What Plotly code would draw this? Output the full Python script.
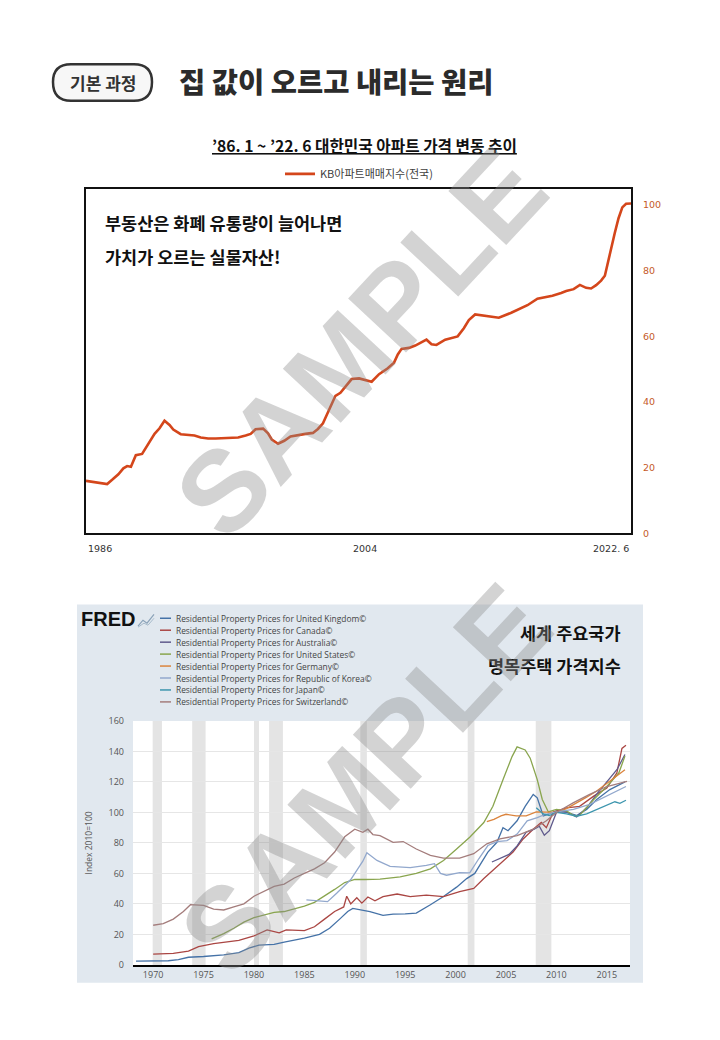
import plotly.graph_objects as go

W, H = 720, 1040


def px(x):
    return x / W


def py(y):
    return 1 - y / H


# KB apartment sales price index (nationwide), 1986.1 ~ 2022.6
kb_dates = [
    '1986-01', '1986-07', '1987-01', '1987-06', '1987-10', '1988-03', '1988-07', '1988-10',
    '1989-01', '1989-05', '1989-10', '1990-03', '1990-08', '1990-12', '1991-04', '1991-08',
    '1991-11', '1992-05', '1992-11', '1993-04', '1993-09', '1994-03', '1994-09', '1995-03',
    '1995-09', '1996-03', '1996-09', '1997-01', '1997-05', '1997-11', '1998-03', '1998-06',
    '1998-11', '1999-04', '1999-09', '2000-03', '2000-09', '2001-03', '2001-07', '2001-11',
    '2002-02', '2002-05', '2002-09', '2003-01', '2003-05', '2003-10', '2004-04', '2004-09',
    '2005-02', '2005-08', '2006-03', '2006-08', '2006-11', '2007-02', '2007-08', '2008-01',
    '2008-07', '2008-10', '2009-02', '2009-06', '2010-01', '2010-06', '2010-11', '2011-04',
    '2011-08', '2012-01', '2012-06', '2013-01', '2013-08', '2014-06', '2015-01', '2015-07',
    '2016-03', '2016-10', '2017-03', '2017-10', '2018-02', '2018-08', '2019-01', '2019-06',
    '2019-10', '2020-02', '2020-06', '2020-09', '2020-11', '2021-02', '2021-05', '2021-08',
    '2021-11', '2022-02', '2022-06',
]
kb_values = [
    16.0, 15.6, 15.2, 15.0, 16.3, 18.0, 19.8, 20.5,
    20.3, 23.8, 24.2, 27.2, 30.3, 32.0, 34.3, 33.0,
    31.6, 30.2, 30.0, 29.8, 29.2, 28.9, 28.9, 29.0,
    29.0, 29.2, 29.8, 30.3, 31.7, 31.9, 30.5, 28.6,
    27.3, 28.2, 29.5, 30.0, 30.3, 30.6, 31.8, 33.5,
    36.2, 38.8, 41.9, 42.8, 44.5, 47.0, 47.2, 46.8,
    46.2, 48.5, 50.3, 52.0, 54.5, 56.2, 56.5, 57.2,
    58.4, 59.0, 57.6, 57.4, 59.0, 59.6, 60.0, 62.5,
    65.0, 66.7, 66.4, 66.0, 65.7, 67.2, 68.4, 69.5,
    71.5, 72.0, 72.4, 73.2, 73.8, 74.4, 75.7, 74.8,
    74.6, 75.6, 77.0, 78.5, 82.0, 86.5, 91.5, 96.0,
    99.3, 100.4, 100.5,
]
kb_tick_pos = ['1986-01-01', '2004-09-01', '2022-06-01']
kb_tick_text = ['1986', '2004', '2022. 6']
kb_yticks = [0, 20, 40, 60, 80, 100]

# FRED residential property prices, index 2010=100
uk_years = [1968.3, 1970, 1971.5, 1972.5, 1973.5, 1975, 1977, 1978.5, 1979.5, 1980.5, 1982, 1983,
            1985, 1986.5, 1987.5, 1988.5, 1989.3, 1989.8, 1990.5, 1991.5, 1992.8, 1993.8, 1995,
            1996.1, 1997.5, 1998.8, 2000.1, 2001.1, 2001.9, 2002.4, 2003.2, 2004.1, 2004.7, 2005.2,
            2006.1, 2006.9, 2007.7, 2008.1, 2008.7, 2009.2, 2010.0, 2011.0, 2012.0, 2013.0, 2014.0,
            2015.3, 2016.8]
uk_values = [2.5, 2.6, 2.7, 3.5, 5.0, 5.5, 6.5, 8.0, 11.0, 13.0, 13.5, 15.0,
             17.5, 20.0, 24.0, 30.0, 35.0, 37.0, 36.0, 35.0, 32.5, 33.3, 33.5,
             34.0, 39.4, 44.8, 51.0, 56.6, 60.0, 65.3, 74.0, 80.4, 90.0, 88.0,
             94.5, 104.0, 111.8, 109.6, 97.7, 98.8, 101.0, 100.0, 98.0, 102.0, 108.5,
             115.0, 120.0]

ca_years = [1970, 1972, 1973.5, 1974.5, 1976, 1977, 1978.5, 1980, 1981.3, 1982.5, 1983.2, 1985,
            1986, 1987, 1988, 1988.9, 1989.2, 1989.6, 1990.2, 1990.7, 1991.3, 1992.0, 1992.8,
            1994.2, 1995.5, 1997.1, 1998.8, 2000.4, 2001.8, 2002.8, 2003.7, 2004.7, 2005.7,
            2006.7, 2007.7, 2008.5, 2009.0, 2009.7, 2011.0, 2012.3, 2013.7, 2015.0, 2016.0,
            2016.5, 2016.9]
ca_values = [7.0, 7.5, 9.0, 12.0, 14.0, 15.0, 16.0, 19.0, 23.0, 21.0, 23.0, 22.5,
             25.0, 30.0, 35.0, 38.0, 45.0, 40.0, 44.0, 40.5, 44.5, 42.0, 44.8,
             46.5, 44.8, 45.8, 44.8, 48.0, 50.2, 56.6, 62.0, 68.5, 74.0,
             82.6, 89.0, 93.4, 90.0, 100.3, 103.0, 104.0, 110.7, 116.0, 126.0,
             142.0, 144.0]

au_years = [2003.6, 2004.5, 2005.3, 2006.1, 2007.0, 2007.8, 2008.3, 2008.8, 2009.3, 2010.0,
            2011.0, 2012.0, 2013.0, 2014.0, 2015.0, 2016.0, 2016.8]
au_values = [67.5, 70.0, 72.5, 78.0, 87.0, 89.0, 91.0, 85.0, 88.0, 100.0,
             100.5, 97.0, 103.0, 112.0, 120.0, 128.0, 138.0]

us_years = [1975.8, 1977, 1978, 1979, 1980, 1981, 1982, 1983, 1984, 1985, 1986, 1987, 1988,
            1989, 1990, 1991, 1992.5, 1994.5, 1996.1, 1997.5, 1998.8, 2000.1, 2001.4, 2002.8,
            2003.7, 2004.7, 2005.6, 2006.1, 2006.9, 2007.4, 2008.1, 2008.6, 2009.2, 2010.0,
            2011.0, 2011.8, 2012.3, 2013.7, 2015.0, 2016.2, 2016.8]
us_values = [17, 20.5, 24, 28, 31, 33, 34.5, 35, 36.5, 38.5, 41, 45, 49.5,
             54, 56, 56, 56.2, 57.7, 60, 63, 68.5, 76, 83.7, 93.4,
             104, 121.5, 136.6, 143, 141, 135.6, 121.5, 108.5, 100.3, 102,
             101, 97.7, 98, 108.5, 117, 126, 137]

de_years = [2003.1, 2003.8, 2004.5, 2005.0, 2006.0, 2007.0, 2008.0, 2009.0, 2010.0, 2011.0,
            2012.0, 2013.0, 2014.0, 2015.0, 2016.0, 2016.8]
de_values = [94, 95.5, 97.7, 98.8, 97.7, 97.7, 100.3, 100.3, 100, 102.5,
             106, 110, 114, 119, 124, 128]

kr_years = [1985.2, 1986, 1987.3, 1988.2, 1989, 1989.6, 1990.2, 1990.8, 1991.2, 1992.2, 1993.5,
            1995.5, 1997.1, 1997.9, 1998.5, 1999.1, 2000.4, 2001.4, 2002.3, 2003.2, 2004.1,
            2005.1, 2006.1, 2007.1, 2008.1, 2008.9, 2010.0, 2011.7, 2013.3, 2015.0, 2016.9]
kr_values = [42.6, 42, 41.5, 47, 52, 56, 62, 68, 73.5, 68.5, 64.6,
             63.8, 65.3, 66.4, 60, 58.8, 60.5, 60.3, 69.6, 78.3, 80.9,
             81.5, 85.8, 94.5, 96.6, 98.8, 100.3, 102, 105.3, 110.7, 117]

jp_years = [2008.0, 2008.7, 2009.3, 2010.0, 2011.0, 2012.0, 2013.0, 2014.0, 2015.0, 2015.8,
            2016.3, 2016.9]
jp_values = [103, 99, 98, 100, 99, 97.5, 99, 102, 104.5, 107, 106, 108]

ch_years = [1970.0, 1971, 1972, 1973, 1973.7, 1975, 1976, 1977, 1978, 1979, 1980, 1981, 1982,
            1983, 1984, 1985, 1986, 1987, 1988, 1989, 1990, 1990.8, 1991.3, 1991.8, 1992.5,
            1993.8, 1994.8, 1996.1, 1997.5, 1998.8, 2000.4, 2001.8, 2003.1, 2004.4, 2006.1,
            2007.7, 2009.0, 2010.0, 2011.7, 2013.3, 2015.0, 2017.0]
ch_values = [26, 27, 30, 35, 39.5, 39, 36.5, 36, 38, 40, 45, 48, 51.5,
             53, 57, 60, 63, 67, 74, 84, 89, 87, 89, 85.5, 84.8,
             80.4, 80.9, 76, 71.8, 70, 70, 72.9, 79.4, 82.6, 84.8,
             89, 94.5, 100, 106.4, 111.8, 117, 120.4]

fred_names = [
    'Residential Property Prices for United Kingdom©',
    'Residential Property Prices for Canada©',
    'Residential Property Prices for Australia©',
    'Residential Property Prices for United States©',
    'Residential Property Prices for Germany©',
    'Residential Property Prices for Republic of Korea©',
    'Residential Property Prices for Japan©',
    'Residential Property Prices for Switzerland©',
]
fred_colors = ['#4572a7', '#aa4643', '#5f5a8c', '#89a54e', '#db843d', '#92a8cd', '#3d96ae', '#a47d7c']
fred_x = [uk_years, ca_years, au_years, us_years, de_years, kr_years, jp_years, ch_years]
fred_y = [uk_values, ca_values, au_values, us_values, de_values, kr_values, jp_values, ch_values]

rec_start = [1969.95, 1973.87, 1980.0, 1981.5, 1990.55, 2001.2, 2007.95]
rec_end = [1970.87, 1975.2, 1980.5, 1982.87, 1991.2, 2001.87, 2009.5]

KB_RED = '#d4461b'
KR_FONT = 'Noto Sans CJK KR'

fig = go.Figure()
fig.add_trace(go.Scatter(
    x=kb_dates, y=kb_values, mode='lines', name='KB아파트매매지수(전국)',
    line=dict(color=KB_RED, width=2.6), xaxis='x', yaxis='y', showlegend=True,
))
for name, color, xs, ys in zip(fred_names, fred_colors, fred_x, fred_y):
    fig.add_trace(go.Scatter(
        x=xs, y=ys, mode='lines', name=name,
        line=dict(color=color, width=1.3), xaxis='x2', yaxis='y2', showlegend=False,
    ))

shapes = []
# pill around "기본 과정"
x0, x1, y0, y1, r = 53, 152, 58, 95, 18
pill = [(x0 + r, y0), (x1 - r, y0), (x1, y0), (x1, y0 + r), (x1, y1), (x1 - r, y1),
        (x0 + r, y1), (x0, y1), (x0, y0 + r), (x0, y0), (x0 + r, y0)]
p = [f'{px(a):.5f},{py(b):.5f}' for a, b in pill]
shapes.append(dict(
    type='path', xref='paper', yref='paper',
    path=f'M{p[0]} L{p[1]} Q{p[2]} {p[3]} Q{p[4]} {p[5]} L{p[6]} Q{p[7]} {p[8]} Q{p[9]} {p[10]} Z',
    fillcolor='#f7f7f7', line=dict(color='#333333', width=2.5), layer='below',
))
# FRED panel and white plotting area
shapes.append(dict(type='rect', xref='paper', yref='paper', x0=px(77), x1=px(643), y0=py(988), y1=py(605),
                   fillcolor='#e1e8ef', line=dict(width=0), layer='below'))
shapes.append(dict(type='rect', xref='paper', yref='paper', x0=px(133), x1=px(630), y0=py(970), y1=py(723),
                   fillcolor='white', line=dict(width=0), layer='below'))
# recession bands
for s, e in zip(rec_start, rec_end):
    shapes.append(dict(type='rect', xref='x2', yref='y2 domain', x0=s, x1=e, y0=0, y1=1,
                       fillcolor='#e4e4e4', line=dict(width=0), layer='below'))
# FRED legend samples
for i, color in enumerate(fred_colors):
    yy = py(619 + 12.1 * i)
    shapes.append(dict(type='line', xref='paper', yref='paper', x0=px(160), x1=px(171), y0=yy, y1=yy,
                       line=dict(color=color, width=1.5)))
# small FRED graph icon
shapes.append(dict(type='path', xref='paper', yref='paper',
                   path=f'M{px(138)},{py(627)} L{px(143)},{py(621)} L{px(147)},{py(624)} L{px(154)},{py(615)}',
                   line=dict(color='#8aa2b8', width=1.2)))
shapes.append(dict(type='path', xref='paper', yref='paper',
                   path=f'M{px(138)},{py(628)} L{px(144)},{py(624)} L{px(148)},{py(626)} L{px(154)},{py(619)}',
                   line=dict(color='#a9bccc', width=1.0)))

annotations = [
    dict(text='기본 과정', x=px(102.5), y=py(76), xanchor='center',
         font=dict(size=17, weight=700, color='#333333')),
    dict(text='집 값이 오르고 내리는 원리', x=px(177), y=py(74), xanchor='left',
         font=dict(size=28.5, weight=900, color='#2b2b2b')),
    dict(text='<u>’86. 1 ~ ’22. 6 대한민국 아파트 가격 변동 추이</u>', x=px(364), y=py(140), xanchor='center',
         font=dict(size=15.7, weight=700, color='#111111')),
    dict(text='부동산은 화폐 유통량이 늘어나면', x=px(103), y=py(218), xanchor='left',
         font=dict(size=17.5, weight=700, color='#111111')),
    dict(text='가치가 오르는 실물자산!', x=px(103), y=py(253), xanchor='left',
         font=dict(size=17.5, weight=700, color='#111111')),
    dict(text='세계 주요국가', x=px(623), y=py(633), xanchor='right',
         font=dict(size=17.5, weight=700, color='#111111')),
    dict(text='명목주택 가격지수', x=px(623), y=py(667), xanchor='right',
         font=dict(size=17.5, weight=700, color='#111111')),
    dict(text='FRED', x=px(79), y=py(620), xanchor='left',
         font=dict(family='Liberation Sans', size=20, weight=900, color='#111111')),
]
for i, (pos, label) in enumerate(zip(kb_tick_pos, kb_tick_text)):
    anchor = 'left' if i == 0 else ('right' if i == len(kb_tick_pos) - 1 else 'center')
    annotations.append(dict(text=label, x=pos, xref='x', y=py(548), xanchor=anchor,
                            font=dict(family='DejaVu Sans', size=9.5, color='#333333')))
for i, name in enumerate(fred_names):
    annotations.append(dict(text=name, x=px(174), y=py(619 + 12.1 * i), xanchor='left',
                            font=dict(family='Open Sans', size=8.4, color='#444444')))
for cx, cy in [(360, 340), (365, 782)]:
    annotations.append(dict(text='SAMPLE', x=px(cx), y=py(cy), xanchor='center', textangle=-47,
                            font=dict(family='Liberation Sans', size=115, weight=700,
                                      color='rgba(140,140,140,0.38)')))
for a in annotations:
    a.setdefault('xref', 'paper')
    a.setdefault('yref', 'paper')
    a.setdefault('showarrow', False)
    a.setdefault('yanchor', 'middle')

fig.update_layout(
    width=W, height=H, margin=dict(l=0, r=0, t=0, b=0),
    paper_bgcolor='white', plot_bgcolor='rgba(0,0,0,0)',
    font=dict(family=KR_FONT, color='#333333'),
    shapes=shapes, annotations=annotations,
    legend=dict(orientation='h', x=px(280), y=py(169), xanchor='left', yanchor='middle',
                bgcolor='rgba(0,0,0,0)', font=dict(size=11, color='#404040')),
    xaxis=dict(domain=[px(86), px(631)], type='date', range=['1986-01-01', '2022-06-01'],
               showticklabels=False, showgrid=False, zeroline=False, ticks='',
               showline=True, mirror=True, linecolor='#111111', linewidth=2),
    yaxis=dict(domain=[py(533), py(184)], range=[0, 105], side='right', tickvals=kb_yticks,
               tickfont=dict(family='DejaVu Sans', size=9.5, color='#c55a2a'), ticklabelstandoff=8,
               showgrid=False, zeroline=False, ticks='',
               showline=True, mirror=True, linecolor='#111111', linewidth=2),
    xaxis2=dict(domain=[px(133), px(630)], range=[1968, 2017.3], anchor='y2',
                tickvals=list(range(1970, 2016, 5)),
                tickfont=dict(family='Open Sans', size=9, color='#555555'),
                showgrid=False, zeroline=False, ticks='', showline=True, linecolor='#000000', linewidth=2),
    yaxis2=dict(domain=[py(970), py(723)], range=[0, 160], dtick=20, anchor='x2',
                tickfont=dict(family='Open Sans', size=9, color='#555555'), ticklabelstandoff=8,
                showgrid=True, gridcolor='#e6e6e6', zeroline=False, ticks='',
                title=dict(text='Index 2010=100', standoff=14,
                           font=dict(family='Open Sans', size=8.5, color='#555555'))),
)

# the page body has a default 8px margin; drop it so the figure fills the window
fig.write_html('out.html', config={'displayModeBar': False},
               post_script="document.body.style.margin = '0';")
